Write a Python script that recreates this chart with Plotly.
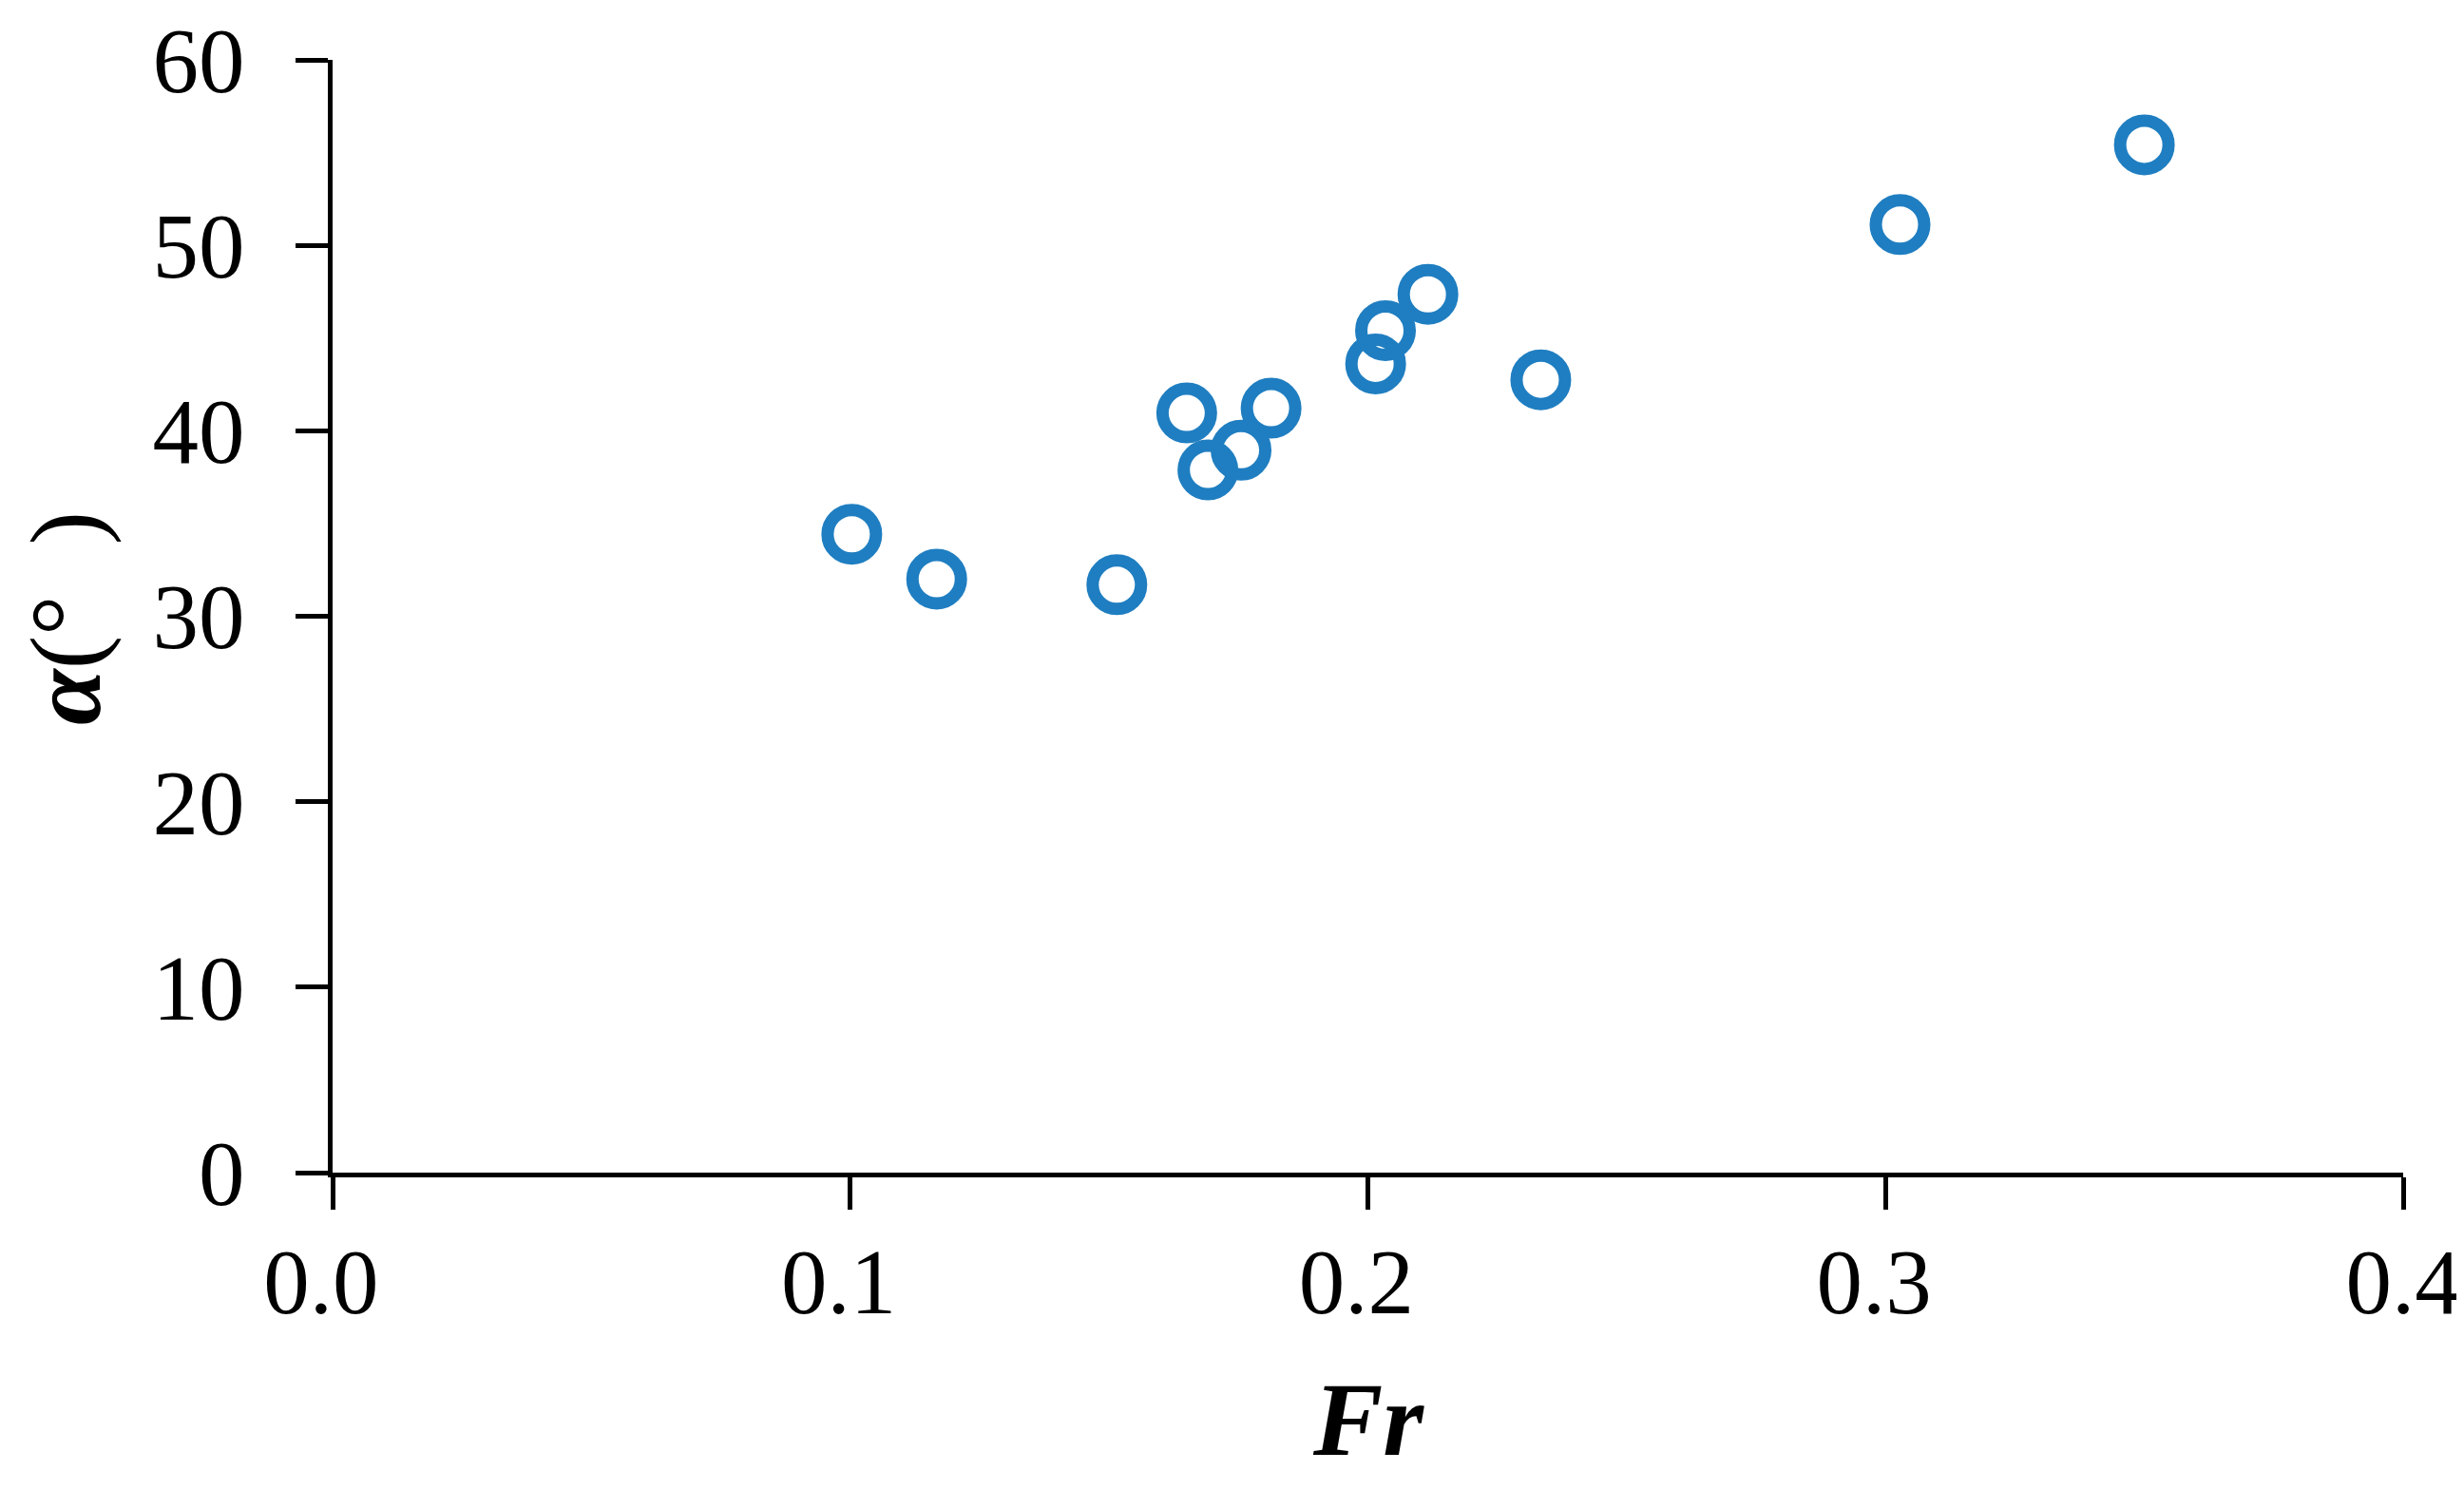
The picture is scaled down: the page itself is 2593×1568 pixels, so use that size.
import plotly.graph_objects as go

# Data
fr = [0.1003, 0.1167, 0.1515, 0.1650, 0.1813, 0.1691, 0.1755,
      0.2015, 0.2034, 0.2116, 0.2334, 0.3028, 0.3500]
alpha = [34.42, 32.0, 31.7, 40.96, 41.22, 37.89, 38.95,
         43.61, 45.40, 47.36, 42.75, 51.12, 55.42]

x_ticks = [0.0, 0.1, 0.2, 0.3, 0.4]
x_tick_labels = ["0.0", "0.1", "0.2", "0.3", "0.4"]
y_ticks = [0, 10, 20, 30, 40, 50, 60]
y_tick_labels = ["0", "10", "20", "30", "40", "50", "60"]

# page body has an 8px default margin: compensate
OFF = 8
W, H = 2593 - OFF, 1568 - 2 * OFF
PW, PH = 2179.5, 1171.4
L = 350 - OFF
T = 63 - OFF
R = W - L - PW
B = H - T - PH

fig = go.Figure()
fig.add_trace(go.Scatter(
    x=fr, y=alpha, mode="markers",
    marker=dict(symbol="circle-open", size=51, color="#1f7ec1",
                line=dict(width=13, color="#1f7ec1")),
    showlegend=False, cliponaxis=False,
))

axis_common = dict(
    showgrid=False, zeroline=False, showline=True, linecolor="black",
    linewidth=5, ticks="outside", ticklen=34, tickwidth=5, tickcolor="black",
    tickfont=dict(family="Liberation Serif, Times New Roman, serif", size=97, color="black"),
    mirror=False, automargin=False, ticklabeloverflow="allow",
)

# small trailing space nudges labels slightly left, as in the reference
x_text = [t + "\u00a0" for t in x_tick_labels[:-1]] + [x_tick_labels[-1]]

fig.update_xaxes(range=[0, 0.4], tickvals=x_ticks, ticktext=x_text,
                 ticklabelstandoff=-7, **axis_common)
fig.update_yaxes(range=[0, 60], tickvals=y_ticks, ticktext=y_tick_labels,
                 ticklabelstandoff=34, **axis_common)

fig.add_annotation(
    text="<b><i>Fr</i></b>", xref="paper", yref="paper",
    x=0.5, y=-0.2222, xanchor="center", yanchor="middle", showarrow=False,
    font=dict(family="Liberation Serif, Times New Roman, serif", size=110, color="black"),
)
fig.add_annotation(
    text="<b><i>α</i></b>(°\u00a0\u00a0)", xref="paper", yref="paper",
    x=(70 - 350) / PW, y=0.498, xanchor="center", yanchor="middle",
    textangle=-90, showarrow=False,
    font=dict(family="Liberation Serif, Times New Roman, serif", size=106, color="black"),
)

fig.update_layout(
    width=W, height=H,
    margin=dict(l=L, r=R, t=T, b=B, pad=0),
    paper_bgcolor="white", plot_bgcolor="white",
)

fig.write_html("out.html")
